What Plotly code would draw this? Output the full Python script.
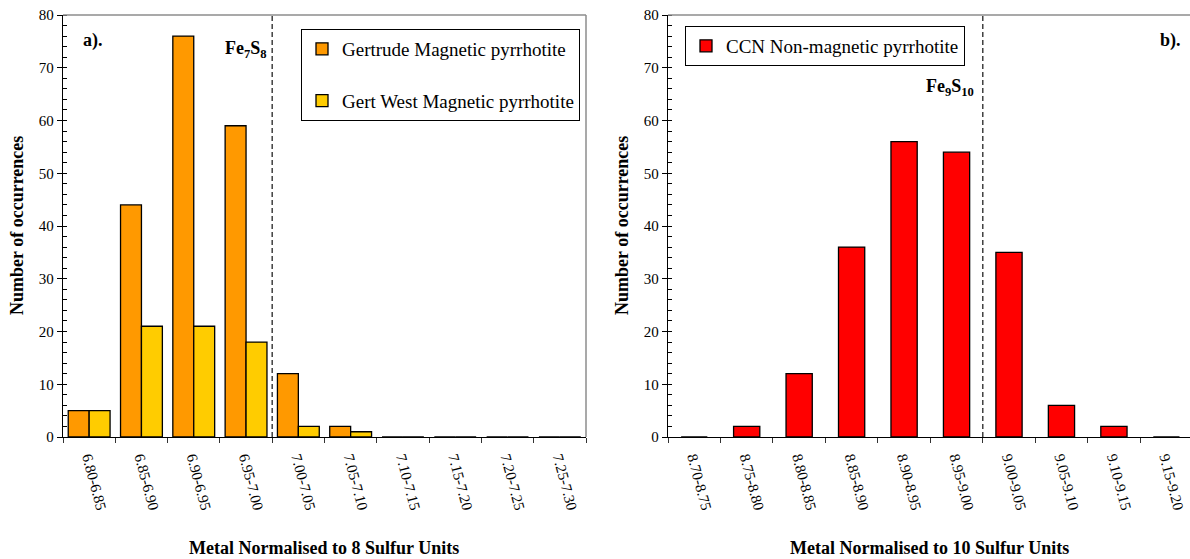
import plotly.graph_objects as go

# Panel a) : metal normalised to 8 sulfur units
bins_a = ["6.80-6.85", "6.85-6.90", "6.90-6.95", "6.95-7.00", "7.00-7.05",
          "7.05-7.10", "7.10-7.15", "7.15-7.20", "7.20-7.25", "7.25-7.30"]
gertrude = [5, 44, 76, 59, 12, 2, 0, 0, 0, 0]
gert_west = [5, 21, 21, 18, 2, 1, 0, 0, 0, 0]

# Panel b) : metal normalised to 10 sulfur units
bins_b = ["8.70-8.75", "8.75-8.80", "8.80-8.85", "8.85-8.90", "8.90-8.95",
          "8.95-9.00", "9.00-9.05", "9.05-9.10", "9.10-9.15", "9.15-9.20"]
ccn = [0, 2, 12, 36, 56, 54, 35, 6, 2, 0]

y_ticks = [0, 10, 20, 30, 40, 50, 60, 70, 80]

W, H = 1190, 559
FONT = "Liberation Serif, Times New Roman, serif"


def px_x(v):
    return v / W


def px_y(v):
    return 1 - v / H


outline = dict(color="black", width=1.3)

fig = go.Figure()

fig.add_trace(go.Bar(x=bins_a, y=gertrude, name="Gertrude Magnetic pyrrhotite",
                     marker=dict(color="#FF9900", line=outline),
                     legendgroup="g1", legend="legend", xaxis="x", yaxis="y"))
fig.add_trace(go.Bar(x=bins_a, y=gert_west, name="Gert West Magnetic pyrrhotite",
                     marker=dict(color="#FFCC00", line=outline),
                     legendgroup="g2", legend="legend", xaxis="x", yaxis="y"))
fig.add_trace(go.Bar(x=bins_b, y=ccn, name="CCN Non-magnetic pyrrhotite",
                     marker=dict(color="#FF0000", line=outline), width=0.5,
                     legend="legend2", xaxis="x2", yaxis="y2"))

tickfont = dict(family=FONT, size=15, color="black")

xcommon = dict(type="category", showline=True, linecolor="black", linewidth=1.3,
               ticks="outside", ticklen=5, tickcolor="#333333", tickwidth=1,
               tickson="boundaries", tickangle=75, tickfont=tickfont,
               ticklabelstandoff=5,
               showgrid=False, zeroline=False, automargin=False, fixedrange=True)
ycommon = dict(range=[0, 80], tickvals=y_ticks, showline=True, linecolor="black",
               linewidth=1.3, ticks="outside", ticklen=5, tickcolor="black",
               tickfont=tickfont, showgrid=False, zeroline=False,
               minor=dict(dtick=2, ticks="inside", ticklen=4, tickcolor="black"),
               automargin=False, fixedrange=True)

y_dom = [px_y(437), px_y(15)]

fig.update_layout(
    width=W, height=H,
    margin=dict(l=0, r=0, t=0, b=0),
    paper_bgcolor="white", plot_bgcolor="white",
    barmode="group", bargap=0.2, bargroupgap=0,
    font=dict(family=FONT, color="black"),
    xaxis=dict(xcommon, domain=[px_x(63), px_x(586)], range=[-0.5, 9.5], anchor="y"),
    yaxis=dict(ycommon, domain=y_dom, anchor="x"),
    xaxis2=dict(xcommon, domain=[px_x(668), 1.0], range=[-0.5, 9.45], anchor="y2"),
    yaxis2=dict(ycommon, domain=y_dom, anchor="x2"),
    legend=dict(x=px_x(580), y=px_y(29), xanchor="right", yanchor="top",
                bgcolor="white", bordercolor="black", borderwidth=1,
                font=dict(family=FONT, size=19, color="black"), tracegroupgap=24,
                itemclick=False, itemdoubleclick=False),
    legend2=dict(x=px_x(685), y=px_y(26), xanchor="left", yanchor="top",
                 bgcolor="white", bordercolor="black", borderwidth=1,
                 font=dict(family=FONT, size=19, color="black"),
                 itemclick=False, itemdoubleclick=False),
    showlegend=True,
)

frame = dict(color="#8c8c8c", width=1.5)
dashed = dict(color="#404040", width=1.5, dash="5px,3px")
shapes = [
    # panel a frame (top and right) and Fe7S8 marker
    dict(type="line", xref="x domain", yref="y domain", x0=0, x1=1, y0=1, y1=1, line=frame),
    dict(type="line", xref="x domain", yref="y domain", x0=1, x1=1, y0=0, y1=1, line=frame),
    dict(type="line", xref="x", yref="y domain", x0=3.5, x1=3.5, y0=0, y1=1, line=dashed),
    # panel b frame (top) and Fe9S10 marker
    dict(type="line", xref="x2 domain", yref="y2 domain", x0=0, x1=1, y0=1, y1=1, line=frame),
    dict(type="line", xref="x2", yref="y2 domain", x0=5.5, x1=5.5, y0=0, y1=1, line=dashed),
]

title_font = dict(family=FONT, size=18, color="black")
label_font = dict(family=FONT, size=18, color="black")


def note(text, x, y, xanchor="center", angle=0, font=title_font):
    return dict(text=text, xref="paper", yref="paper", x=px_x(x), y=px_y(y),
                xanchor=xanchor, yanchor="middle", showarrow=False,
                textangle=angle, font=font)


annotations = [
    note("<b>Metal Normalised to 8 Sulfur Units</b>", 324, 548),
    note("<b>Metal Normalised to 10 Sulfur Units</b>", 929, 548),
    note("<b>Number of occurrences</b>", 17, 226, angle=-90),
    note("<b>Number of occurrences</b>", 622, 226, angle=-90),
    note("<b>a).</b>", 81, 40, xanchor="left", font=label_font),
    note("<b>b).</b>", 1183, 40, xanchor="right", font=label_font),
    note("<b>Fe<sub>7</sub>S<sub>8</sub></b>", 269, 49, xanchor="right", font=label_font),
    note("<b>Fe<sub>9</sub>S<sub>10</sub></b>", 976, 87, xanchor="right", font=label_font),
]

fig.update_layout(shapes=shapes, annotations=annotations)

fig.write_html("out.html")
